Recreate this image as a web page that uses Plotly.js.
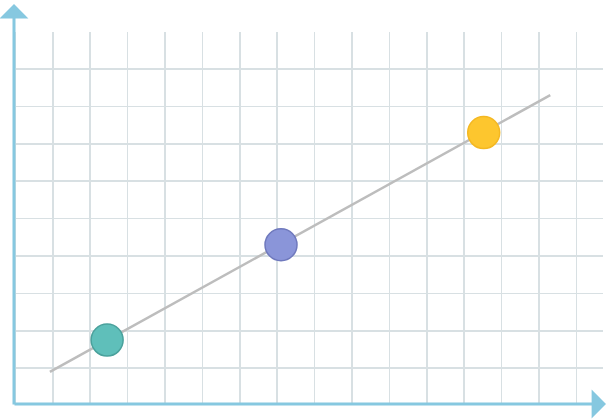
<!DOCTYPE html>
<html>
<head>
<meta charset="utf-8">
<script src="https://cdn.plot.ly/plotly-3.0.1.min.js"></script>
<style>html,body{margin:0;padding:0;background:#fff;}#chart{width:610px;height:419px;}</style>
</head>
<body>
<div id="chart"></div>
<script>
// Data (grid units)
var trendX = [0.92, 14.3];
var trendY = [0.9, 8.3];
var pointX = [2.45, 7.1, 12.52];
var pointY = [1.75, 4.3, 7.3];
var pointColors = ['#5fbfba', '#8a95d9', '#fdc62e'];
var pointLines = ['#4aa19c', '#6f79bd', '#f4b822'];

var traces = [
  {x: trendX, y: trendY, mode: 'lines', line: {color: '#bdbdbd', width: 2.5}, hoverinfo: 'skip', showlegend: false},
  {x: pointX, y: pointY, mode: 'markers', marker: {size: 32, color: pointColors, line: {color: pointLines, width: 1.5}}, showlegend: false}
];

var axisColor = '#86c8e0';
var layout = {
  width: 610, height: 419,
  margin: {l: 14, r: 7, t: 32, b: 15},
  paper_bgcolor: '#ffffff', plot_bgcolor: '#ffffff',
  xaxis: {range: [-0.04, 15.71], dtick: 1, tick0: 0, showgrid: true, gridcolor: '#d8e0e3', gridwidth: 1.6,
          zeroline: false, showticklabels: false, ticks: '', showline: false, fixedrange: true},
  yaxis: {range: [0.04, 9.99], dtick: 1, tick0: 0, showgrid: true, gridcolor: '#d8e0e3', gridwidth: 1.6,
          zeroline: false, showticklabels: false, ticks: '', showline: false, fixedrange: true},
  annotations: [
    {xref: 'paper', yref: 'paper', x: 0, y: (404 - 4) / 372, axref: 'pixel', ayref: 'pixel', ax: 0, ay: 402,
     text: '', showarrow: true, arrowhead: 1, arrowsize: 1.6, arrowwidth: 3, arrowcolor: axisColor, standoff: 0},
    {xref: 'paper', yref: 'paper', x: (606 - 14) / 589, y: 0, axref: 'pixel', ayref: 'pixel', ax: -593, ay: 0,
     text: '', showarrow: true, arrowhead: 1, arrowsize: 1.6, arrowwidth: 3, arrowcolor: axisColor, standoff: 0}
  ]
};

Plotly.newPlot('chart', traces, layout, {displayModeBar: false, staticPlot: true});
</script>
</body>
</html>
